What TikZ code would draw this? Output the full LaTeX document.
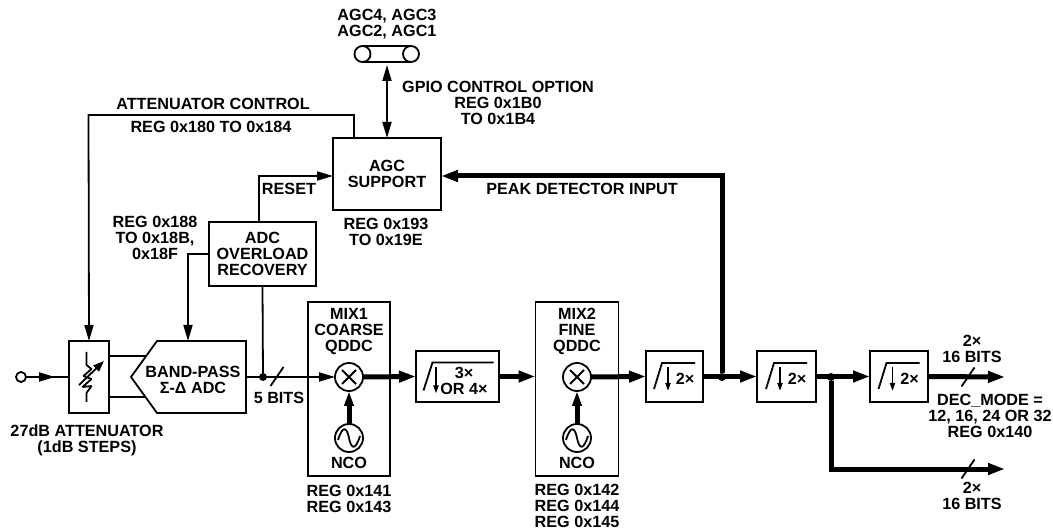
\documentclass[tikz,border=0pt]{standalone}
\usepackage{fontspec}
\setmainfont{Liberation Sans}
\usetikzlibrary{arrows.meta}

\begin{document}
\begin{tikzpicture}[
    x=1pt, y=-1pt,
    font=\fontsize{16.2}{16}\selectfont\bfseries,
    wire/.style={line width=1.8pt},
    bus/.style={line width=5pt, >={Triangle[length=17pt, width=11pt]}},
    box/.style={draw, line width=1.8pt, inner sep=0pt, outer sep=0pt, align=center},
    lab/.style={inner sep=0pt, outer sep=0pt, align=center},
    ring/.style={draw, circle, line width=1.8pt, fill=white, inner sep=0pt, outer sep=0pt},
    dot/.style={circle, fill=black, minimum size=8pt, inner sep=0pt, outer sep=0pt},
    >={Triangle[length=16pt, width=9pt]}
  ]
    \useasboundingbox (0,0) rectangle (1053,529);

    % main blocks
    \node[box, minimum width=40pt, minimum height=72pt] (att) at (89,377) {};
    \node[lab, minimum width=115pt, minimum height=72pt] (adc) at (188.5,377) {};
    \node[lab] (adctext) at (193,379.5) {BAND-PASS\\Σ-Δ ADC};
    \node[box, minimum width=107pt, minimum height=64pt] (ovl) at (262.5,254) {ADC\\OVERLOAD\\RECOVERY};
    \node[box, minimum width=108pt, minimum height=72pt] (agc) at (387,174) {AGC\\SUPPORT};
    \node[box, minimum width=82pt, minimum height=174pt] (mixboxA) at (349,389) {};
    \node[box, minimum width=83pt, minimum height=174pt] (mixboxB) at (577,389) {};
    \node[box, minimum width=83pt, minimum height=51pt] (filtA) at (457.5,376.5) {};
    \node[box, minimum width=57pt, minimum height=51pt] (filtB) at (674.5,376.5) {};
    \node[box, minimum width=59pt, minimum height=51pt] (filtC) at (786.5,376.5) {};
    \node[box, minimum width=58pt, minimum height=51pt] (filtD) at (899,376.5) {};

    % mixers and oscillators
    \node[ring, minimum size=28pt] (mixA) at (349,377) {};
    \node[ring, minimum size=28pt] (mixB) at (577,377) {};
    \node[ring, minimum size=28pt] (ncoA) at (349,438) {};
    \node[ring, minimum size=28pt] (ncoB) at (577,438) {};
    \foreach \m in {mixA,mixB} {
      \draw[wire] ([shift={(-7,-7)}]\m.center) -- ([shift={(7,7)}]\m.center);
      \draw[wire] ([shift={(-7,7)}]\m.center) -- ([shift={(7,-7)}]\m.center);
    }
    \foreach \m in {ncoA,ncoB} {
      \draw[wire] ([shift={(-11,2)}]\m.center) .. controls ([shift={(-6,-14)}]\m.center) and ([shift={(-2,-10)}]\m.center) .. (\m.center)
        .. controls ([shift={(2,10)}]\m.center) and ([shift={(6,14)}]\m.center) .. ([shift={(11,-2)}]\m.center);
    }

    % adc outline and attenuator symbol
    \draw[wire] (adc.north east) -- (adc.south east) -- ([xshift=26pt]adc.south west) -- (adc.west) -- ([xshift=26pt]adc.north west) -- cycle;
    \draw[wire, line join=bevel] ([shift={(-2.5,-25)}]att.center) -- ([shift={(-2.5,-12)}]att.center) -- ++(5,4) -- ++(-8,7) -- ++(8,3) -- ++(-9,8) -- ++(9,-1) -- ++(-5,7) -- ([shift={(-2.5,25)}]att.center);
    \draw[wire, -{Triangle[length=11pt, width=8pt]}] ([shift={(-10,8)}]att.center) -- ([shift={(15,-16)}]att.center);

    % filter symbols
    \draw[wire] ([shift={(-34,14)}]filtA.center) -- ([shift={(-25,-14)}]filtA.center) -- ([shift={(36,-14)}]filtA.center);
    \draw[wire, -{Triangle[length=8pt, width=5pt]}] ([shift={(-21.5,-9)}]filtA.center) -- ([shift={(-21.5,17)}]filtA.center);
    \node[lab] (filtAlab) at (464,381) {3×\\OR 4×};
    \foreach \f in {filtB,filtC,filtD} {
      \draw[wire] ([shift={(-20.5,12.5)}]\f.center) -- ([shift={(-12.5,-13.5)}]\f.center) -- ([shift={(20.5,-13.5)}]\f.center);
      \draw[wire, -{Triangle[length=8pt, width=5pt]}] ([shift={(-6.5,-9.5)}]\f.center) -- ([shift={(-6.5,14.5)}]\f.center);
      \node[lab] (\f lab) at ([shift={(10.5,2.5)}]\f.center) {2×};
    }

    % pin bar
    \node[ring, minimum size=16pt] (pinL) at (362.5,54) {};
    \node[ring, minimum size=16pt] (pinR) at (411,54) {};
    \draw[wire] (pinL.north) -- (pinR.north);
    \draw[wire] (pinL.south) -- (pinR.south);

    % input and junctions
    \node[ring, minimum size=10pt] (inp) at (21,377) {};
    \node[dot] (dotA) at (263,377) {};
    \node[dot] (dotB) at (722,377) {};
    \node[dot] (dotC) at (831,377) {};

    \coordinate (inpA) at (55,377);
    \coordinate (busT) at (387,65);
    \coordinate (agcT) at (354,138);
    \coordinate (ctlL) at (88.5,115);
    \coordinate (agcW) at (333,176);
    \coordinate (agcE) at (441,176);
    \coordinate (ovlT) at (259,222);
    \coordinate (ovlW) at (209,254);
    \coordinate (adcN) at (188,341);
    \coordinate (adcU) at (146,356);
    \coordinate (attU) at (109,356);
    \coordinate (adcD) at (146,397);
    \coordinate (attD) at (109,397);
    \coordinate (outA) at (1005,377);
    \coordinate (outB) at (1005,469);
    \coordinate (slashA) at (277,376.5);
    \coordinate (slashB) at (968,377);
    \coordinate (slashC) at (968,469);

    % thin connectors
    \draw[wire] (inp) -- (att.west);
    \draw[wire, ->] (inp) -- (inpA);
    \draw[wire] (attU) -- (adcU);
    \draw[wire] (attD) -- (adcD);
    \draw[wire, ->] (agcT) |- (ctlL) -- (att.north);
    \draw[wire, <->] (busT) -- (agc.north);
    \draw[wire, ->] (ovlT) |- (agcW);
    \draw[wire, ->] (ovlW) -| (adcN);
    \draw[wire] (ovl.south) -- (dotA);
    \draw[wire, ->] (adc.east) -- (mixA.west);
    \foreach \s in {slashA,slashB,slashC} {
      \draw[wire] ([shift={(-6.5,9.5)}]\s) -- ([shift={(6.5,-9.5)}]\s);
    }

    % thick connectors
    \draw[bus, ->] (mixA.east) -- (filtA.west);
    \draw[bus, ->] (filtA.east) -- (mixboxB.west |- filtA.east);
    \draw[bus, ->] (mixB.east) -- (filtB.west);
    \draw[bus, ->] (filtB.east) -- (filtC.west);
    \draw[bus, ->] (filtC.east) -- (filtD.west);
    \draw[bus, ->] (filtD.east) -- (outA);
    \draw[bus, ->] (dotB) |- (agcE);
    \draw[bus, ->] (dotC) |- (outB);
    \draw[bus, -{Triangle[length=15pt, width=9pt]}] (ncoA) -- (mixA);
    \draw[bus, -{Triangle[length=15pt, width=9pt]}] (ncoB) -- (mixB);

    % labels
    \node[lab] (agcpins) at (387,24.5) {AGC4, AGC3\\AGC2, AGC1};
    \node[lab] (gpiolab) at (498,102.5) {GPIO CONTROL OPTION\\REG 0x1B0\\TO 0x1B4};
    \node[lab] (ctllab) at (213,104) {ATTENUATOR CONTROL};
    \node[lab] (ctlreg) at (211,127) {REG 0x180 TO 0x184};
    \node[lab] (resetlab) at (289,189) {RESET};
    \node[lab] (peaklab) at (582,189) {PEAK DETECTOR INPUT};
    \node[lab] (agcreg) at (386,231.5) {REG 0x193\\TO 0x19E};
    \node[lab] (ovlreg) at (155,238) {REG 0x188\\TO 0x18B,\\0x18F};
    \node[lab] (bitslab) at (279,398) {5 BITS};
    \node[lab] (attlab) at (87,440) {27dB ATTENUATOR\\(1dB STEPS)};
    \node[lab] (mixlabA) at (349,331.5) {MIX1\\COARSE\\QDDC};
    \node[lab] (mixlabB) at (577,331.5) {MIX2\\FINE\\QDDC};
    \node[lab] (ncolabA) at (349,463) {NCO};
    \node[lab] (ncolabB) at (577,463) {NCO};
    \node[lab] (mixregA) at (349,499) {REG 0x141\\REG 0x143};
    \node[lab] (mixregB) at (577,505.5) {REG 0x142\\REG 0x144\\REG 0x145};
    \node[lab] (outlabA) at (972,348.5) {2×\\16 BITS};
    \node[lab] (declab) at (990,415.5) {DEC\_MODE =\\12, 16, 24 OR 32\\REG 0x140};
    \node[lab] (outlabB) at (972,496) {2×\\16 BITS};
\end{tikzpicture}
\end{document}
